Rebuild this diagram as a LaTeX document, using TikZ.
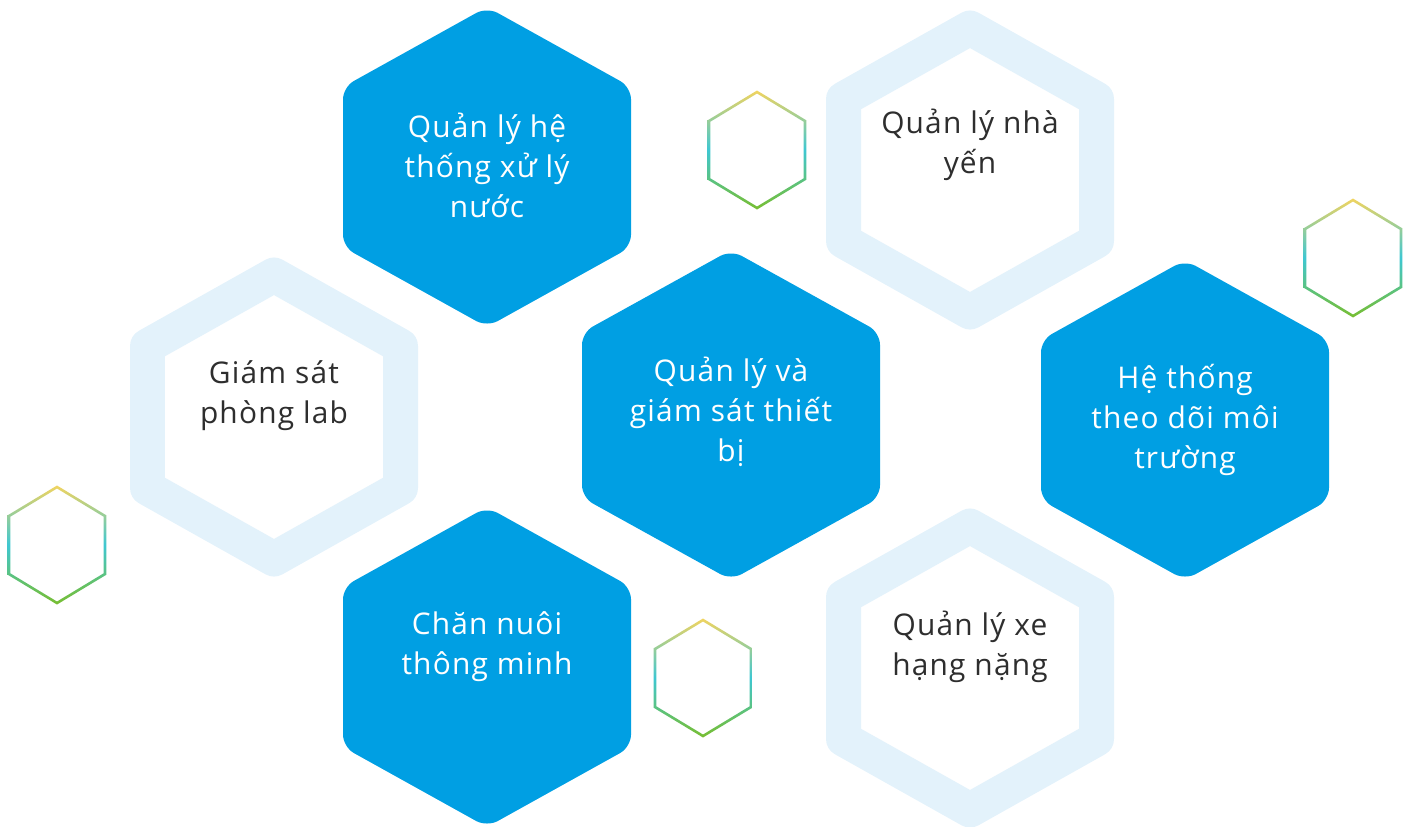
\documentclass[tikz,border=0pt]{standalone}
\usepackage{fontspec}
\setmainfont{Open Sans}[LetterSpace=4]
\definecolor{hexblue}{HTML}{009FE3}
\definecolor{hexpale}{HTML}{E3F2FB}
\definecolor{hextext}{HTML}{2E2E2E}
\definecolor{hexyellow}{HTML}{F0D460}
\definecolor{hexcyan}{HTML}{3EC7D2}
\definecolor{hexgreen}{HTML}{78BE30}
\newcommand{\hexpath}[4]{(#1,#2-#4) -- (#1+#3,#2-#4/2) -- (#1+#3,#2+#4/2) -- (#1,#2+#4) -- (#1-#3,#2+#4/2) -- (#1-#3,#2-#4/2) -- cycle}

\begin{document}
\begin{tikzpicture}[x=0.02cm, y=-0.02cm,
    bluehex/.style={fill=hexblue, rounded corners=7pt},
    palehex/.style={draw=hexpale, fill=white, line width=0.7cm, line join=round},
    minihex/.style={top color=hexyellow, bottom color=hexgreen, middle color=hexcyan, even odd rule},
    whitetext/.style={text=white, align=center, font=\fontsize{17pt}{22.8pt}\selectfont},
    darktext/.style={text=hextext, align=center, font=\fontsize{17pt}{22.8pt}\selectfont}]
  \useasboundingbox (0,0) rectangle (1412,826);

  \path[palehex] \hexpath{970}{170}{126.5}{142};
  \path[palehex] \hexpath{274}{417}{126.5}{142};
  \path[palehex] \hexpath{970}{668}{126.5}{142};

  \path[bluehex] \hexpath{487}{167}{144}{160};
  \path[bluehex] \hexpath{731}{415}{149}{165};
  \path[bluehex] \hexpath{1185}{420}{144}{160};
  \path[bluehex] \hexpath{487}{667}{144}{160};

  \shade[minihex] \hexpath{757}{150}{49.3}{59.5} \hexpath{757}{150}{46.7}{56.5};
  \shade[minihex] \hexpath{1353}{258}{49.3}{59.5} \hexpath{1353}{258}{46.7}{56.5};
  \shade[minihex] \hexpath{57}{545}{49.3}{59.5} \hexpath{57}{545}{46.7}{56.5};
  \shade[minihex] \hexpath{703}{678}{49.3}{59.5} \hexpath{703}{678}{46.7}{56.5};

  \node[whitetext] (water) at (487,165) {Quản lý hệ\\thống xử lý\\nước};
  \node[darktext] (nest) at (970,145) {Quản lý nhà\\yến};
  \node[darktext] (lab) at (274,396) {Giám sát\\phòng lab};
  \node[whitetext] (device) at (731,412) {Quản lý và\\giám sát thiết\\bị};
  \node[whitetext] (env) at (1185,420) {Hệ thống\\theo dõi môi\\trường};
  \node[whitetext] (farm) at (487,647) {Chăn nuôi\\thông minh};
  \node[darktext] (truck) at (970,647) {Quản lý xe\\hạng nặng};
\end{tikzpicture}
\end{document}
